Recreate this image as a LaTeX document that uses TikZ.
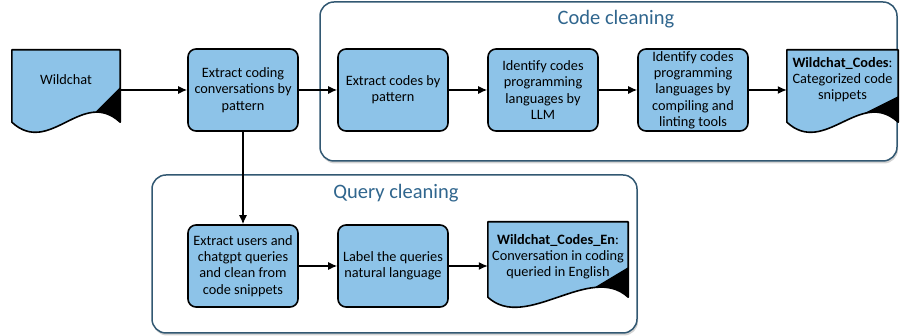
\documentclass[tikz,border=0pt]{standalone}
\usepackage{fontspec}
\setmainfont{Carlito}
\usetikzlibrary{arrows.meta,shadows,calc}

\definecolor{boxblue}{RGB}{141,195,232}
\definecolor{titleblue}{RGB}{48,102,142}
\definecolor{panelline}{RGB}{50,88,114}

\pgfdeclarelayer{back}
\pgfdeclarelayer{docs}
\pgfsetlayers{back,docs,main}

\tikzset{
  stepbox/.style={draw=black, line width=1.6pt, fill=boxblue, rounded corners=8pt,
    minimum width=110pt, minimum height=82pt, align=center, inner sep=2pt,
    font=\fontsize{14.3}{16.3}\selectfont},
  docnode/.style={align=center, inner sep=0pt, font=\fontsize{14.3}{16}\selectfont},
  docbody/.style={draw=black, line width=1.6pt, fill=boxblue, line join=round},
  panel/.style={draw=panelline, line width=1.5pt, fill=white, rounded corners=14pt,
    drop shadow={shadow xshift=1pt, shadow yshift=-2.5pt, opacity=0.35}},
  paneltitle/.style={text=titleblue, font=\fontsize{20.5}{24}\selectfont},
  flow/.style={line width=1.3pt, -{Latex[length=9pt,width=8pt]}},
}

% document outline under a node: name, wave drop, corner height, corner slope
\newcommand{\docshape}[4]{%
  \draw[docbody, path picture={
      \fill[black] ($(#1.south east)+(0,#3)$) -- ++(-60,{-60*#4}) -- ++(0,-80)
        -| ($(#1.south east)+(0,#3)$);
    }]
    (#1.north west) -- (#1.north east) -- ([yshift=-#2pt]#1.south east)
    .. controls +(-38,35) and +(38,-35) .. ([yshift=-#2pt]#1.south west) -- cycle;
}

\begin{document}
\begin{tikzpicture}[x=1pt, y=1pt]
\useasboundingbox (0,0) rectangle (900,336);

\begin{pgfonlayer}{back}
\draw[panel] (320,175) rectangle (897,334);
\draw[panel] (152,3) rectangle (637,161);
\end{pgfonlayer}

\node[paneltitle] (codetitle) at (616,317) {Code cleaning};
\node[paneltitle] (querytitle) at (396,143) {Query cleaning};

% top row
\node[docnode, minimum width=108pt, minimum height=60pt] (wild) at (66,256) {Wildchat};
\node[stepbox] (extract) at (243,246) {Extract coding\\conversations by\\pattern};
\node[stepbox] (codes) at (393,246) {Extract codes by\\pattern};
\node[stepbox] (llm) at (543,246) {Identify codes\\programming\\languages by\\LLM};
\node[stepbox] (lint) at (693,246) {Identify codes\\programming\\languages by\\compiling and\\linting tools};
\node[docnode, minimum width=111pt, minimum height=60pt] (wcodes) at (842.5,256)
  {\textbf{Wildchat\_Codes}:\\Categorized code\\snippets};

% bottom row
\node[stepbox] (queries) at (243,70) {Extract users and\\chatgpt queries\\and clean from\\code snippets};
\node[stepbox] (lang) at (393,70) {Label the queries\\natural language};
\node[docnode, minimum width=140pt, minimum height=70pt] (wcodesen) at (558,79)
  {\textbf{Wildchat\_Codes\_En}:\\Conversation in coding\\queried in English};

\begin{pgfonlayer}{docs}
\docshape{wild}{12}{23}{1}
\docshape{wcodes}{12}{14}{0.5}
\docshape{wcodesen}{5}{25}{0.6}
\end{pgfonlayer}

\draw[flow] (wild.east |- extract.west) -- (extract.west);
\draw[flow] (extract) -- (codes);
\draw[flow] (codes) -- (llm);
\draw[flow] (llm) -- (lint);
\draw[flow] (lint.east) -- (wcodes.west |- lint.east);
\draw[flow] (extract) -- (queries);
\draw[flow] (queries) -- (lang);
\draw[flow] (lang.east) -- (wcodesen.west |- lang.east);

\end{tikzpicture}
\end{document}
